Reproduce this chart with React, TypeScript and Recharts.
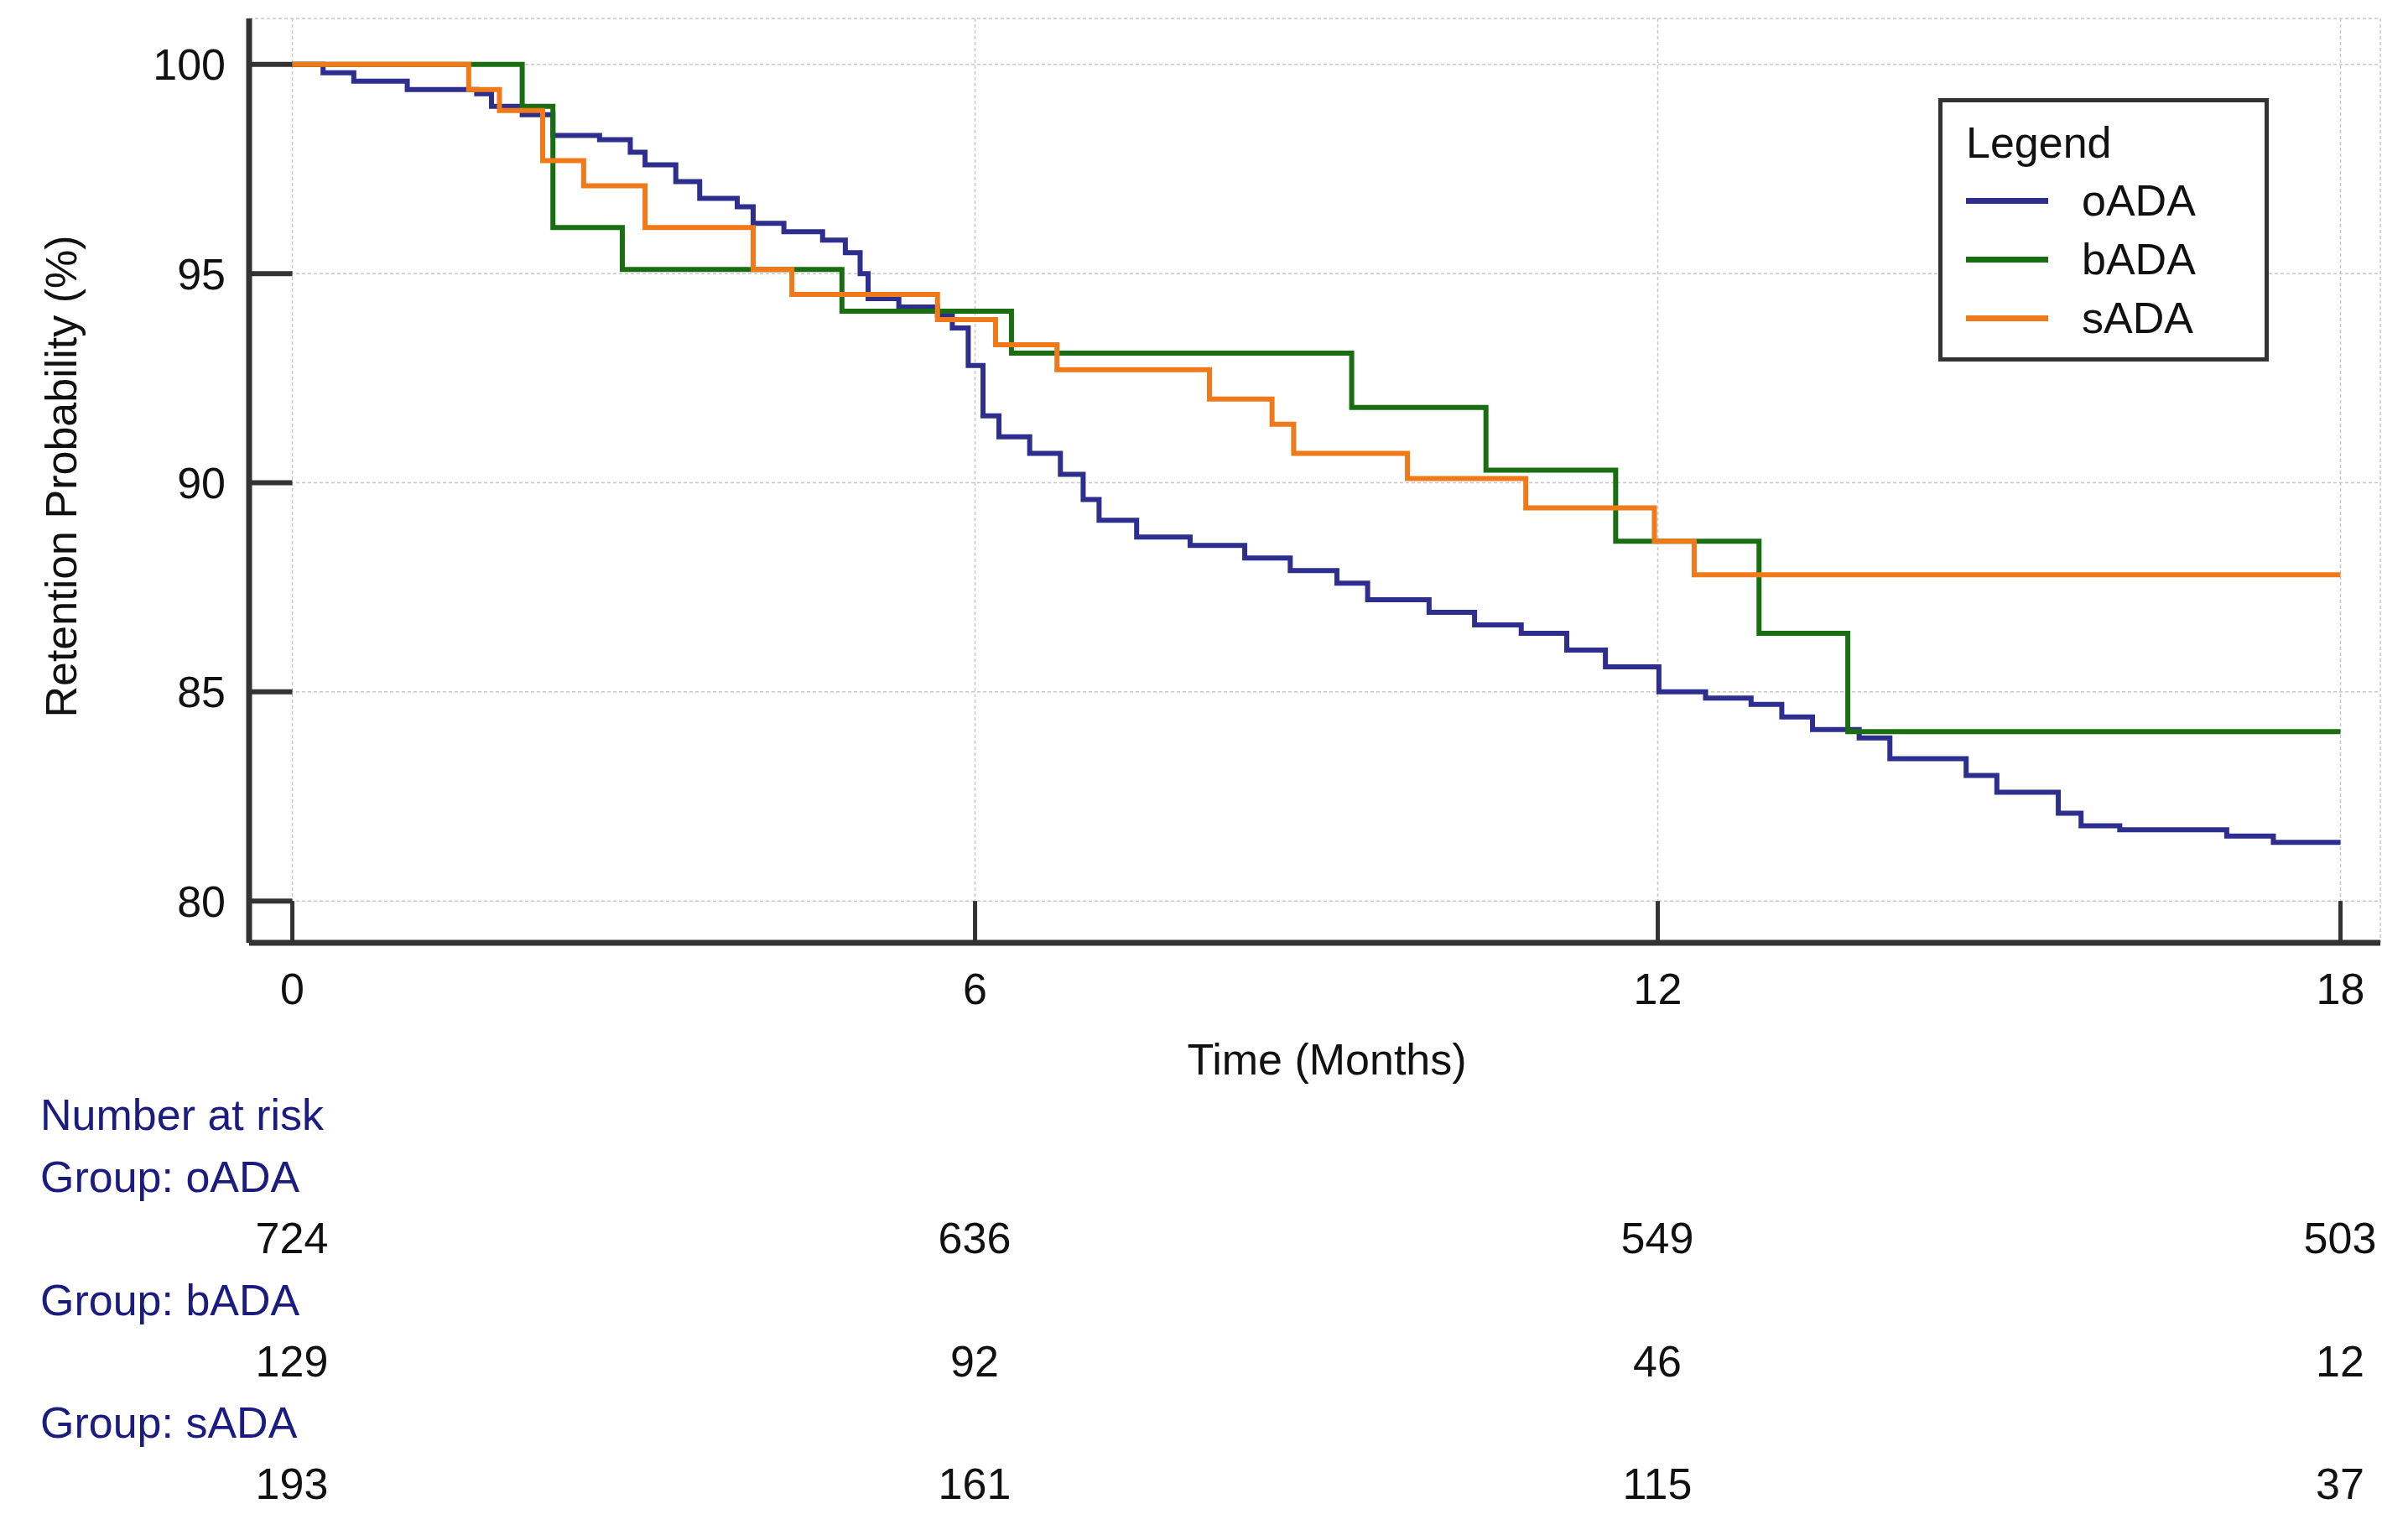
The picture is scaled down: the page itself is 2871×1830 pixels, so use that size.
import React from "react";
import {
  CartesianGrid,
  Line,
  LineChart,
  ReferenceLine,
  XAxis,
  YAxis,
} from "recharts";

const oadaTime = [0, 0.27, 0.54, 1.01, 1.62, 1.75, 2.02, 2.29, 2.7, 2.97, 3.1, 3.37, 3.58, 3.91, 4.05, 4.32, 4.66, 4.86, 4.99, 5.06, 5.33, 5.67, 5.8, 5.94, 6.07, 6.21, 6.48, 6.75, 6.95, 7.09, 7.42, 7.89, 8.37, 8.77, 9.18, 9.45, 9.99, 10.39, 10.8, 11.2, 11.54, 12.01, 12.42, 12.82, 13.09, 13.36, 13.77, 14.04, 14.71, 14.98, 15.52, 15.72, 16.06, 17.0, 17.41, 18];
const oadaSurv = [100, 99.8, 99.6, 99.4, 99.3, 99.0, 98.8, 98.3, 98.2, 97.9, 97.6, 97.2, 96.8, 96.6, 96.2, 96.0, 95.8, 95.5, 95.0, 94.4, 94.2, 94.0, 93.7, 92.8, 91.6, 91.1, 90.7, 90.2, 89.6, 89.1, 88.7, 88.5, 88.2, 87.9, 87.6, 87.2, 86.9, 86.6, 86.4, 86.0, 85.6, 85.0, 84.85, 84.7, 84.4, 84.1, 83.9, 83.4, 83.0, 82.6, 82.1, 81.8, 81.7, 81.55, 81.4, 81.4];

const badaTime = [0, 2.02, 2.29, 2.9, 4.83, 6.32, 9.31, 10.49, 11.63, 12.89, 13.67, 18];
const badaSurv = [100, 99.0, 96.1, 95.1, 94.1, 93.1, 91.8, 90.3, 88.6, 86.4, 84.05, 84.05];

const sadaTime = [0, 1.55, 1.82, 2.2, 2.56, 3.1, 4.05, 4.39, 5.67, 6.18, 6.72, 8.06, 8.61, 8.8, 9.8, 10.84, 11.97, 12.32, 18];
const sadaSurv = [100, 99.4, 98.9, 97.7, 97.1, 96.1, 95.1, 94.5, 93.9, 93.3, 92.7, 92.0, 91.4, 90.7, 90.1, 89.4, 88.6, 87.8, 87.8];

const xTicks = [0, 6, 12, 18];
const yTicks = [80, 85, 90, 95, 100];

const riskGroups = ["oADA", "bADA", "sADA"];
const riskCounts = [
  [724, 636, 549, 503],
  [129, 92, 46, 12],
  [193, 161, 115, 37],
];

const series = [
  { name: "oADA", time: oadaTime, surv: oadaSurv, color: "#2e2e8f" },
  { name: "bADA", time: badaTime, surv: badaSurv, color: "#1a6e12" },
  { name: "sADA", time: sadaTime, surv: sadaSurv, color: "#f07a1a" },
];

const FONT = "'Liberation Sans', Arial, sans-serif";
const NAVY = "#1c1c80";
const AXIS = "#333333";

// plot geometry (page pixels)
const X0 = 348;
const PX_PER_MONTH = (2790 - 348) / 18;

function LegendBox() {
  return (
    <div
      style={{
        position: "absolute",
        left: 2311,
        top: 117,
        border: `5px solid ${AXIS}`,
        width: 394,
        height: 314,
        boxSizing: "border-box",
        background: "#fff",
        fontSize: 52,
        color: "#111",
        padding: "18px 0 0 28px",
      }}
    >
      <div style={{ marginBottom: 4 }}>Legend</div>
      {series.map((s) => (
        <div key={s.name} style={{ display: "flex", alignItems: "center", height: 70 }}>
          <div style={{ width: 98, height: 7, background: s.color, marginRight: 40 }} />
          <span>{s.name}</span>
        </div>
      ))}
    </div>
  );
}

export default function App() {
  return (
    <div style={{ position: "absolute", left: 0, top: 0, width: 2871, height: 1830, background: "#fff", fontFamily: FONT }}>
      <LineChart width={2871} height={1830} margin={{ top: 22, right: 33, left: 0, bottom: 600 }}>
        <CartesianGrid stroke="#c8c8c8" strokeDasharray="4 3" strokeWidth={1.5} />
        <XAxis
          type="number"
          dataKey="t"
          domain={[-0.38, 18.35]}
          ticks={xTicks}
          height={106}
          allowDataOverflow
          tickLine={false}
          axisLine={{ stroke: AXIS, strokeWidth: 7 }}
          tick={{ fill: "#111", fontSize: 52, fontFamily: FONT }}
          tickMargin={30}
        />
        <YAxis
          type="number"
          domain={[79, 101.1]}
          ticks={yTicks}
          width={297}
          allowDataOverflow
          tickLine={false}
          axisLine={{ stroke: AXIS, strokeWidth: 7 }}
          tick={{ fill: "#111", fontSize: 52, fontFamily: FONT }}
          tickMargin={22}
        />
        {yTicks.map((y) => (
          <ReferenceLine key={"y" + y} segment={[{ x: -0.38, y }, { x: 0, y }]} stroke={AXIS} strokeWidth={6} />
        ))}
        {xTicks.map((x) => (
          <ReferenceLine key={"x" + x} segment={[{ x, y: 79 }, { x, y: 80 }]} stroke={AXIS} strokeWidth={5} />
        ))}
        {series.map((s) => (
          <Line
            key={s.name}
            name={s.name}
            data={s.time.map((t, i) => ({ t, v: s.surv[i] }))}
            dataKey="v"
            type="stepAfter"
            stroke={s.color}
            strokeWidth={6}
            dot={false}
            isAnimationActive={false}
          />
        ))}
      </LineChart>

      <LegendBox />

      <div
        style={{
          position: "absolute",
          left: 73,
          top: 568,
          transform: "translate(-50%, -50%) rotate(-90deg)",
          whiteSpace: "nowrap",
          fontSize: 52,
          color: "#111",
        }}
      >
        Retention Probability (%)
      </div>
      <div style={{ position: "absolute", left: 1582, top: 1263, transform: "translate(-50%, -50%)", fontSize: 52, color: "#111", whiteSpace: "nowrap" }}>
        Time (Months)
      </div>

      <div style={{ position: "absolute", left: 48, top: 1329, transform: "translateY(-50%)", fontSize: 52, color: NAVY, whiteSpace: "nowrap" }}>
        Number at risk
      </div>
      {riskGroups.map((g, gi) => (
        <React.Fragment key={g}>
          <div
            style={{ position: "absolute", left: 48, top: 1403 + gi * 146.5, transform: "translateY(-50%)", fontSize: 52, color: NAVY, whiteSpace: "nowrap" }}
          >
            Group: {g}
          </div>
          {riskCounts[gi].map((n, i) => (
            <div
              key={i}
              style={{
                position: "absolute",
                left: X0 + xTicks[i] * PX_PER_MONTH,
                top: 1476 + gi * 146.5,
                transform: "translate(-50%, -50%)",
                fontSize: 52,
                color: "#111",
              }}
            >
              {n}
            </div>
          ))}
        </React.Fragment>
      ))}
    </div>
  );
}
